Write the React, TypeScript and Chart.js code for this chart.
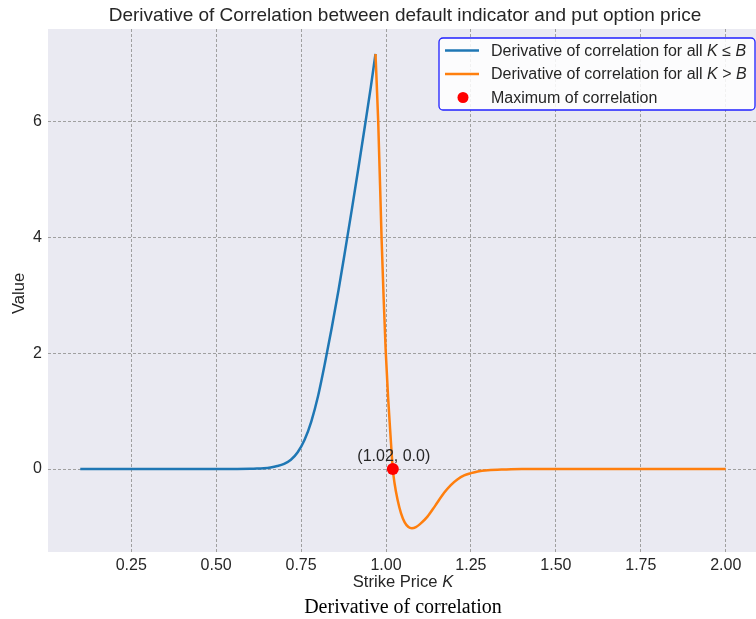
import React, { useEffect, useRef } from "react";
import { Chart, registerables } from "chart.js";

Chart.register(...registerables);

// ---- data ----
const blueK = [0.1, 0.2, 0.3, 0.4, 0.5, 0.55, 0.6, 0.62, 0.64, 0.66, 0.68, 0.7, 0.72, 0.74, 0.76, 0.78, 0.8, 0.82, 0.84, 0.86, 0.88, 0.9, 0.92, 0.94, 0.955, 0.969];
const blueV = [0, 0, 0, 0, 0.0005, 0.002, 0.005, 0.009, 0.016, 0.029, 0.052, 0.09, 0.16, 0.29, 0.5, 0.82, 1.26, 1.82, 2.43, 3.08, 3.78, 4.5, 5.24, 6.0, 6.58, 7.16];

const orangeK = [0.969, 0.977, 0.987, 0.993, 0.999, 1.006, 1.013, 1.02, 1.025, 1.034, 1.044, 1.055, 1.066, 1.076, 1.088, 1.1, 1.122, 1.145, 1.171, 1.19, 1.21, 1.23, 1.25, 1.27, 1.3, 1.35, 1.4, 1.6, 1.8, 2.0];
const orangeV = [7.16, 6.0, 3.97, 2.95, 2.05, 1.25, 0.6, 0.0, -0.24, -0.53, -0.76, -0.92, -1.0, -1.02, -1.0, -0.95, -0.82, -0.63, -0.41, -0.28, -0.18, -0.11, -0.07, -0.04, -0.02, -0.007, 0, 0, 0, 0];

const maxK = [1.02];
const maxV = [0.0];

const xTicks = [0.25, 0.5, 0.75, 1.0, 1.25, 1.5, 1.75, 2.0];
const yTicks = [0, 2, 4, 6];

const titleText = "Derivative of Correlation between default indicator and put option price";
const xTitle = "Strike Price ";
const yTitle = "Value";
const captionText = "Derivative of correlation";
const legendBlue = "Derivative of correlation for all ";
const legendOrange = "Derivative of correlation for all ";
const legendMax = "Maximum of correlation";

const SANS = '"Liberation Sans", Arial, sans-serif';
const SERIF = '"Liberation Serif", "Times New Roman", serif';
const TEXT = "#262626";
const BLUE = "#1f77b4";
const ORANGE = "#ff7f0e";

function drawParts(ctx: CanvasRenderingContext2D, parts: [string, boolean][], x: number, y: number, size: number) {
  let cx = x;
  for (const [t, it] of parts) {
    ctx.font = `${it ? "italic " : ""}${size}px ${SANS}`;
    ctx.fillText(t, cx, y);
    cx += ctx.measureText(t).width;
  }
  return cx;
}

function partsWidth(ctx: CanvasRenderingContext2D, parts: [string, boolean][], size: number) {
  let w = 0;
  for (const [t, it] of parts) {
    ctx.font = `${it ? "italic " : ""}${size}px ${SANS}`;
    w += ctx.measureText(t).width;
  }
  return w;
}

const deco = {
  id: "deco",
  beforeDraw(chart: any) {
    const { ctx, chartArea: a } = chart;
    ctx.save();
    ctx.fillStyle = "#ffffff";
    ctx.fillRect(0, 0, chart.width, chart.height);
    ctx.fillStyle = "#EAEAF2";
    ctx.fillRect(a.left, a.top, a.right - a.left, a.bottom - a.top);
    ctx.restore();
  },
  afterDraw(chart: any) {
    const { ctx, chartArea: a } = chart;
    const xs = chart.scales.x;
    const ys = chart.scales.y;
    ctx.save();
    ctx.fillStyle = TEXT;
    ctx.textBaseline = "alphabetic";

    // title
    ctx.font = `19px ${SANS}`;
    ctx.textAlign = "center";
    ctx.fillText(titleText, 405, 21);

    // x title with italic K
    ctx.textAlign = "left";
    const xParts: [string, boolean][] = [[xTitle, false], ["K", true]];
    const xw = partsWidth(ctx, xParts, 16.6);
    drawParts(ctx, xParts, 403 - xw / 2, 587, 16.6);

    // y title
    ctx.save();
    ctx.translate(24, (a.top + a.bottom) / 2 + 3);
    ctx.rotate(-Math.PI / 2);
    ctx.textAlign = "center";
    ctx.font = `16.6px ${SANS}`;
    ctx.fillText(yTitle, 0, 0);
    ctx.restore();

    // caption
    ctx.font = `20px ${SERIF}`;
    ctx.textAlign = "center";
    ctx.fillStyle = "#000";
    ctx.fillText(captionText, 403, 613);

    // annotation
    ctx.fillStyle = TEXT;
    ctx.font = `16px ${SANS}`;
    const px = xs.getPixelForValue(maxK[0]);
    const py = ys.getPixelForValue(maxV[0]);
    ctx.fillText(`(${maxK[0].toFixed(2)}, ${maxV[0].toFixed(1)})`, px + 1, py - 8);

    // legend
    const lx = 439, ly = 38, lw = 316, lh = 72;
    ctx.beginPath();
    ctx.roundRect(lx, ly, lw, lh, 4);
    ctx.fillStyle = "rgba(255,255,255,0.85)";
    ctx.fill();
    ctx.strokeStyle = "#2020ff";
    ctx.lineWidth = 1.3;
    ctx.stroke();

    const rows = [50.5, 74, 97.5];
    ctx.lineWidth = 2.5;
    ctx.strokeStyle = BLUE;
    ctx.beginPath(); ctx.moveTo(445, rows[0]); ctx.lineTo(479, rows[0]); ctx.stroke();
    ctx.strokeStyle = ORANGE;
    ctx.beginPath(); ctx.moveTo(445, rows[1]); ctx.lineTo(479, rows[1]); ctx.stroke();
    ctx.fillStyle = "#ff0000";
    ctx.beginPath(); ctx.arc(463, rows[2], 5.5, 0, Math.PI * 2); ctx.fill();

    ctx.fillStyle = TEXT;
    ctx.textAlign = "left";
    ctx.textBaseline = "middle";
    drawParts(ctx, [[legendBlue, false], ["K", true], [" \u2264 ", false], ["B", true]], 491, rows[0] + 1, 16);
    drawParts(ctx, [[legendOrange, false], ["K", true], [" > ", false], ["B", true]], 491, rows[1] + 1, 16);
    drawParts(ctx, [[legendMax, false]], 491, rows[2] + 1, 16);
    ctx.restore();
  },
};

export default function App() {
  const ref = useRef<HTMLCanvasElement | null>(null);
  useEffect(() => {
    document.body.style.margin = "0";
    const canvas = ref.current!;
    const chart = new Chart(canvas, {
      type: "scatter",
      data: {
        datasets: [
          {
            label: "max",
            data: maxK.map((k, i) => ({ x: k, y: maxV[i] })),
            pointRadius: 6,
            pointBackgroundColor: "#ff0000",
            pointBorderWidth: 0,
            showLine: false,
            order: 0,
          },
          {
            label: "orange",
            data: orangeK.map((k, i) => ({ x: k, y: orangeV[i] })),
            borderColor: ORANGE,
            borderWidth: 2.5,
            pointRadius: 0,
            showLine: true,
            cubicInterpolationMode: "monotone",
            order: 1,
          },
          {
            label: "blue",
            data: blueK.map((k, i) => ({ x: k, y: blueV[i] })),
            borderColor: BLUE,
            borderWidth: 2.5,
            pointRadius: 0,
            showLine: true,
            cubicInterpolationMode: "monotone",
            order: 2,
          },
        ],
      },
      options: {
        responsive: false,
        animation: false,
        devicePixelRatio: 1,
        layout: { padding: { top: 29, left: 0, right: 1, bottom: 0 } },
        plugins: { legend: { display: false }, tooltip: { enabled: false }, title: { display: false } },
        scales: {
          x: {
            type: "linear",
            min: 0.005,
            max: 2.095,
            afterBuildTicks: (s: any) => { s.ticks = xTicks.map((v) => ({ value: v })); },
            afterFit: (s: any) => { s.height = 67; },
            ticks: { font: { family: SANS, size: 16 }, color: TEXT, padding: 4, callback: (v: any) => Number(v).toFixed(2), maxRotation: 0 },
            grid: { color: "#a0a0a0", lineWidth: 1, drawTicks: false },
            border: { display: false, dash: [3, 2] },
          },
          y: {
            type: "linear",
            min: -1.43,
            max: 7.59,
            afterBuildTicks: (s: any) => { s.ticks = yTicks.map((v) => ({ value: v })); },
            afterFit: (s: any) => { s.width = 48; },
            ticks: { font: { family: SANS, size: 16 }, color: TEXT, padding: 6, callback: (v: any) => String(v) },
            grid: { color: "#a0a0a0", lineWidth: 1, drawTicks: false },
            border: { display: false, dash: [3, 2] },
          },
        },
      },
      plugins: [deco],
    } as any);
    return () => chart.destroy();
  }, []);
  return (
    <div style={{ width: 756, height: 619, overflow: "hidden", position: "relative" }}>
      <canvas ref={ref} width={764} height={619} style={{ width: 764, height: 619, display: "block" }} />
    </div>
  );
}
